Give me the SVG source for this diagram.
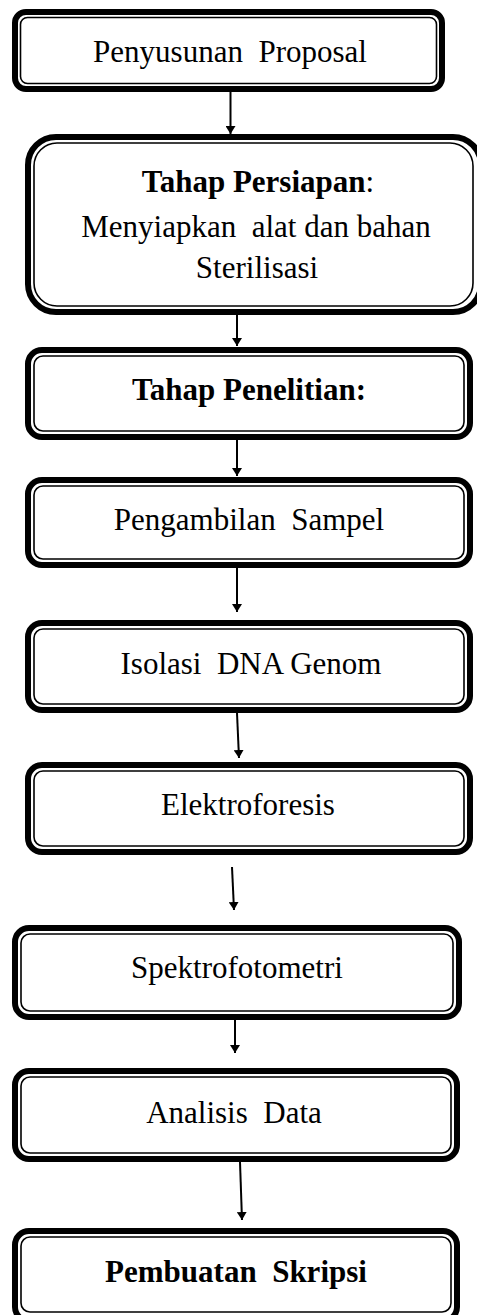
<svg xmlns="http://www.w3.org/2000/svg" width="477" height="1315" viewBox="0 0 477 1315">
<style>
.outer{fill:#fff;stroke:#000;stroke-width:6}
.inner{fill:none;stroke:#000;stroke-width:1.6}
.t{font-family:"Liberation Serif","Times New Roman",serif;font-size:31px;fill:#000;text-anchor:middle;white-space:pre}
.b{font-weight:bold}
.conn{stroke:#000;stroke-width:2;fill:none}
</style>
<defs>
<marker id="ah" viewBox="0 0 8 10" markerWidth="8" markerHeight="10" refX="8" refY="5" orient="auto" markerUnits="userSpaceOnUse">
<path d="M0,0 L8,5 L0,10 z" fill="#000"/>
</marker>
</defs>
<rect width="477" height="1315" fill="#fff"/>
<g id="connectors">
<line class="conn" x1="230.5" y1="92" x2="230.5" y2="134" marker-end="url(#ah)"/>
<line class="conn" x1="237" y1="315" x2="237" y2="346" marker-end="url(#ah)"/>
<line class="conn" x1="237" y1="440" x2="237" y2="476" marker-end="url(#ah)"/>
<line class="conn" x1="237" y1="568" x2="237" y2="612" marker-end="url(#ah)"/>
<line class="conn" x1="237" y1="713" x2="239" y2="758" marker-end="url(#ah)"/>
<line class="conn" x1="232" y1="867" x2="234" y2="910" marker-end="url(#ah)"/>
<line class="conn" x1="235" y1="1020" x2="235" y2="1053" marker-end="url(#ah)"/>
<line class="conn" x1="240" y1="1162" x2="242" y2="1220" marker-end="url(#ah)"/>
</g>
<g id="n1">
<rect class="outer" x="15" y="12" width="427" height="77" rx="11"/>
<rect class="inner" x="20.5" y="17.5" width="416" height="66" rx="7"/>
<text class="t" x="230" y="62" xml:space="preserve">Penyusunan  Proposal</text>
</g>
<g id="n2">
<rect class="outer" x="28" y="137" width="453" height="175" rx="28"/>
<rect class="inner" x="34" y="143" width="439" height="163" rx="23"/>
<text class="t b" x="258" y="192">Tahap Persiapan<tspan font-weight="normal">:</tspan></text>
<text class="t" x="256" y="237" xml:space="preserve">Menyiapkan  alat dan bahan</text>
<text class="t" x="257" y="278">Sterilisasi</text>
</g>
<g id="n3">
<rect class="outer" x="28" y="350" width="442" height="87" rx="14"/>
<rect class="inner" x="34" y="356" width="430" height="75" rx="9"/>
<text class="t b" x="249" y="400">Tahap Penelitian:</text>
</g>
<g id="n4">
<rect class="outer" x="28" y="480" width="442" height="85" rx="14"/>
<rect class="inner" x="34" y="486" width="430" height="73" rx="9"/>
<text class="t" x="249" y="530" xml:space="preserve">Pengambilan  Sampel</text>
</g>
<g id="n5">
<rect class="outer" x="28" y="623" width="442" height="87" rx="14"/>
<rect class="inner" x="34" y="629" width="430" height="75" rx="9"/>
<text class="t" x="251" y="674" xml:space="preserve">Isolasi  DNA Genom</text>
</g>
<g id="n6">
<rect class="outer" x="28" y="765" width="442" height="87" rx="14"/>
<rect class="inner" x="34" y="771" width="430" height="75" rx="9"/>
<text class="t" x="248" y="815">Elektroforesis</text>
</g>
<g id="n7">
<rect class="outer" x="15" y="928" width="444" height="89" rx="14"/>
<rect class="inner" x="21" y="934" width="432" height="77" rx="9"/>
<text class="t" x="237" y="978">Spektrofotometri</text>
</g>
<g id="n8">
<rect class="outer" x="15" y="1071" width="442" height="88" rx="14"/>
<rect class="inner" x="21" y="1077" width="430" height="76" rx="9"/>
<text class="t" x="234" y="1123" xml:space="preserve">Analisis  Data</text>
</g>
<g id="n9">
<rect class="outer" x="15" y="1231" width="442" height="90" rx="14"/>
<rect class="inner" x="21" y="1237" width="430" height="75" rx="9"/>
<text class="t b" x="236" y="1282" xml:space="preserve">Pembuatan  Skripsi</text>
</g>
</svg>
